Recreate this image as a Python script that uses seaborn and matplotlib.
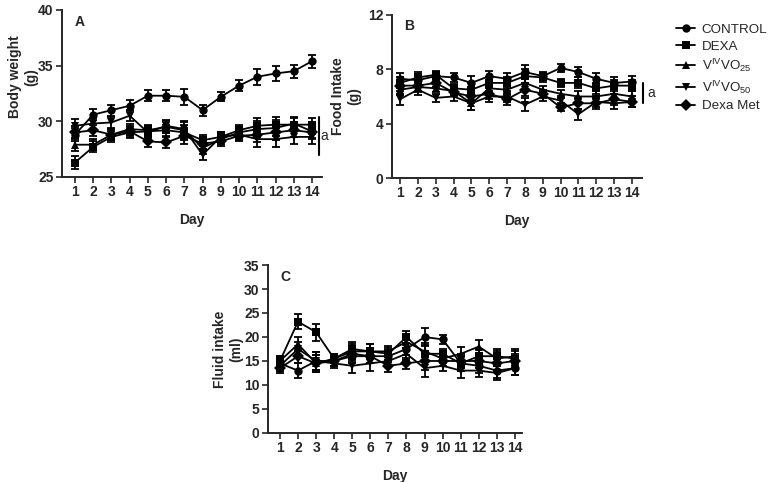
import numpy as np
import pandas as pd
import seaborn as sns
import matplotlib.pyplot as plt

# data (means and error bars)
days = list(range(1, 15))
groups = ["CONTROL", "DEXA", "V25", "V50", "Dexa Met"]
group_labels = ["CONTROL", "DEXA", r"V$^{\mathrm{IV}}$VO$_{\mathrm{25}}$",
                r"V$^{\mathrm{IV}}$VO$_{\mathrm{50}}$", "Dexa Met"]

# A - body weight (g)
bw_control = [28.8, 30.6, 31.0, 31.4, 32.3, 32.3, 32.2, 31.0, 32.2, 33.2, 34.0, 34.3, 34.5, 35.4]
bw_dexa = [26.3, 27.7, 28.6, 29.0, 29.1, 29.2, 29.0, 28.3, 28.6, 29.2, 29.6, 29.7, 29.7, 29.7]
bw_v25 = [27.9, 27.9, 28.8, 29.3, 29.2, 29.5, 29.2, 27.6, 28.4, 29.0, 29.3, 29.4, 29.8, 29.1]
bw_v50 = [29.6, 29.8, 29.9, 30.5, 29.0, 29.6, 29.3, 27.0, 28.6, 28.8, 28.4, 28.4, 28.6, 28.6]
bw_met = [29.0, 29.2, 28.8, 29.1, 28.2, 28.1, 28.7, 28.0, 28.2, 28.7, 28.8, 29.0, 29.2, 29.0]
bw_err = [0.6, 0.5, 0.5, 0.5, 0.5, 0.5, 0.7, 0.5, 0.4, 0.5, 0.7, 0.7, 0.6, 0.6]

# B - food intake (g)
fi_control = [7.3, 7.2, 7.5, 7.4, 7.0, 7.5, 7.3, 7.8, 7.5, 8.1, 7.8, 7.3, 7.0, 7.1]
fi_dexa = [7.0, 7.4, 7.6, 6.6, 6.5, 7.0, 7.0, 7.5, 7.4, 7.0, 7.0, 6.6, 6.8, 6.8]
fi_v25 = [6.5, 6.7, 6.6, 6.4, 5.5, 6.6, 6.5, 7.0, 6.5, 6.2, 6.0, 6.0, 6.2, 6.0]
fi_v50 = [5.8, 6.5, 5.9, 6.0, 5.5, 6.0, 6.0, 5.4, 6.0, 5.7, 4.7, 5.6, 5.5, 5.6]
fi_met = [6.8, 6.8, 7.0, 6.3, 6.0, 6.2, 5.8, 6.5, 6.2, 5.2, 5.5, 5.5, 5.8, 5.6]
fi_err = [0.4, 0.4, 0.3, 0.3, 0.5, 0.4, 0.4, 0.5, 0.3, 0.3, 0.4, 0.4, 0.4, 0.4]

# C - fluid intake (ml)
fl_control = [14.5, 13.0, 15.0, 15.0, 16.0, 16.0, 16.0, 17.5, 20.0, 19.5, 14.5, 14.0, 13.0, 13.5]
fl_dexa = [15.0, 23.2, 21.0, 15.5, 17.5, 17.0, 16.5, 20.0, 16.5, 16.5, 14.5, 16.0, 16.0, 15.5]
fl_v25 = [15.0, 18.5, 14.5, 15.5, 17.0, 17.0, 17.0, 19.0, 17.0, 15.5, 16.5, 18.0, 15.5, 16.0]
fl_v50 = [14.0, 17.5, 15.0, 14.5, 14.0, 14.5, 15.0, 16.5, 13.5, 14.0, 13.0, 13.0, 12.5, 13.5]
fl_met = [13.5, 16.0, 14.5, 15.0, 16.5, 16.0, 14.0, 14.5, 15.0, 15.0, 15.0, 15.0, 14.5, 15.0]
fl_err = [1.0, 1.5, 1.8, 1.0, 1.5, 1.5, 1.2, 1.2, 1.8, 1.0, 1.5, 1.4, 1.5, 1.5]

markers = {"CONTROL": "o", "DEXA": "s", "V25": "^", "V50": "v", "Dexa Met": "D"}

sns.set_style("ticks")
plt.rcParams["font.family"] = ["Liberation Sans", "DejaVu Sans"]
plt.rcParams["mathtext.fontset"] = "custom"
plt.rcParams["mathtext.rm"] = "Liberation Sans"
plt.rcParams["mathtext.it"] = "Liberation Sans"


def make_df(series):
    rows = []
    for g, vals in zip(groups, series):
        for d, v in zip(days, vals):
            rows.append({"Day": d, "value": v, "group": g})
    return pd.DataFrame(rows)


def draw_panel(ax, series, err, ylim, yticks, ylabel, letter, xlim, lab_x, lab_y, legend=False):
    df = make_df(series)
    sns.lineplot(data=df, x="Day", y="value", style="group", markers=markers, dashes=False,
                 color="black", linewidth=1.3, markersize=6, markeredgewidth=0,
                 legend=legend, ax=ax)
    for vals in series:
        ax.errorbar(days, vals, yerr=err, fmt="none", ecolor="black", elinewidth=1.3,
                    capsize=3, capthick=1.3)
    ax.set_xlim(*xlim)
    ax.set_ylim(*ylim)
    ax.set_xticks(days)
    ax.set_yticks(yticks)
    ax.set_xlabel("Day", fontsize=10, fontweight="bold", labelpad=10)
    ax.set_ylabel(ylabel, fontsize=10, fontweight="bold")
    ax.yaxis.set_label_coords(lab_x, lab_y)
    for lbl in ax.get_xticklabels() + ax.get_yticklabels():
        lbl.set_fontweight("bold")
        lbl.set_fontsize(10)
    ax.tick_params(axis="both", length=4, width=1.2, pad=2)
    ax.spines[["top", "right"]].set_visible(False)
    ax.spines[["left", "bottom"]].set_linewidth(1.4)
    ax.text(0.05, 0.93, letter, transform=ax.transAxes, fontsize=10, fontweight="bold",
            va="center", ha="left")


fig = plt.figure(figsize=(7.73, 4.82), dpi=100)
axA = fig.add_axes([0.0802, 0.6328, 0.3364, 0.3465])
axB = fig.add_axes([0.5071, 0.6307, 0.3234, 0.3382])
axC = fig.add_axes([0.3467, 0.1017, 0.3286, 0.3485])

draw_panel(axA, [bw_control, bw_dexa, bw_v25, bw_v50, bw_met], bw_err, (25, 40), [25, 30, 35, 40],
           "Body weight\n(g)", "A", (0.29, 14.55), -0.09, 0.6, legend=True)
draw_panel(axB, [fi_control, fi_dexa, fi_v25, fi_v50, fi_met], fi_err, (0, 12), [0, 4, 8, 12],
           "Food Intake\n(g)", "B", (0.55, 14.56), -0.122, 0.5)
draw_panel(axC, [fl_control, fl_dexa, fl_v25, fl_v50, fl_met], fl_err, (0, 35), list(range(0, 36, 5)),
           "Fluid intake\n(ml)", "C", (0.34, 14.39), -0.098, 0.5)

# significance bars
axA.plot([14.38, 14.38], [27.0, 30.4], color="black", linewidth=1.5, clip_on=False)
axA.text(14.45, 28.7, "a", fontsize=10, va="center", ha="left")
axB.plot([14.6, 14.6], [5.5, 7.0], color="black", linewidth=1.5, clip_on=False)
axB.text(14.85, 6.25, "a", fontsize=10, va="center", ha="left")

handles, _ = axA.get_legend_handles_labels()
axA.get_legend().remove()
fig.legend(handles, group_labels, loc="upper left", bbox_to_anchor=(0.868, 0.962), frameon=False,
           fontsize=9.6, handlelength=1.4, handletextpad=0.5, labelspacing=0.32, borderaxespad=0)

plt.savefig("out.png", dpi=100)
